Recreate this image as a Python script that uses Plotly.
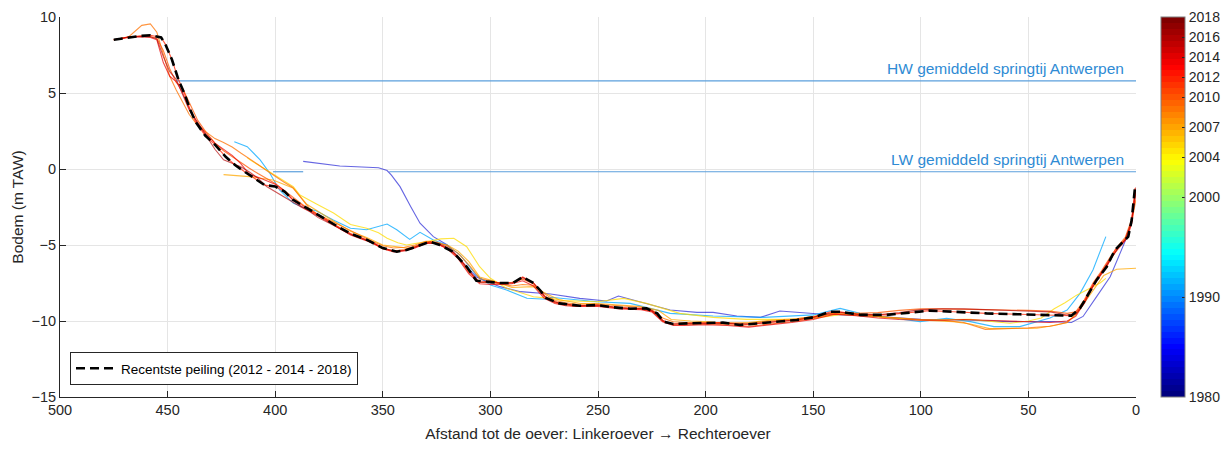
import plotly.graph_objects as go

# ---------------------------------------------------------------- data
# Cross-section profiles: distance from the bank (m) and bed level (m TAW)

x_1983 = [387, 370, 352, 348, 346, 342, 337, 332.7, 326.5, 320, 314, 306.5, 300, 295.5, 286, 272,
          258.5, 246, 240.5, 230.5, 216.5, 204, 196.5, 185.5, 174.5, 165.5, 157.5, 147, 136, 120,
          100, 79, 58.5, 38.5, 30, 24.6, 18.3, 12, 4.3]
y_1983 = [0.5, 0.2, 0.08, -0.1, -0.4, -1.16, -2.48, -3.57, -4.45, -5.0, -6.0, -7.1, -7.5, -7.74, -8.07, -8.22,
          -8.51, -8.68, -8.36, -8.73, -9.28, -9.43, -9.43, -9.67, -9.76, -9.34, -9.43, -9.54, -9.6, -9.7,
          -9.89, -9.93, -10.04, -10.04, -10.1, -9.7, -8.4, -7.09, -4.5]

x_1991 = [419, 413, 407, 402.5, 398, 391.5, 385.5, 381, 373, 365, 357.5, 348, 343.5, 337.5, 332.7, 326.5,
          320.3, 314, 306.5, 300, 292.5, 283, 274, 272, 250.5, 235, 216.5, 196.5, 173, 150, 137.5, 128.3,
          100.4, 88, 77, 66, 54, 40, 32, 26, 20, 14]
y_1991 = [1.8, 1.47, 0.6, -0.28, -1.38, -2.26, -2.6, -2.75, -3.36, -3.9, -4.0, -3.62, -4.0, -4.63, -4.17, -4.67,
          -5.0, -5.66, -7.0, -7.63, -7.96, -8.5, -8.57, -8.44, -8.73, -8.84, -9.5, -9.67, -9.76, -9.6, -9.17, -9.5,
          -10.04, -9.82, -10.04, -10.37, -10.37, -9.8, -9.28, -8.18, -6.64, -4.45]

x_2005 = [413, 411.7, 404, 398, 391.6, 388.5, 385, 380.8, 372.9, 365, 357.5, 352, 348, 343, 339, 334,
          329.6, 323, 317, 311, 305, 300, 292.5, 280, 272, 266, 250.5, 238, 227.5, 212, 196.5, 181,
          158, 147, 131.5, 116, 100, 77, 58.6, 50, 44, 38, 33, 27.6, 22, 16.7, 14]
y_2005 = [0.75, 0.6, -0.07, -0.6, -1.16, -1.71, -2.0, -2.3, -2.9, -3.65, -3.9, -4.2, -4.56, -4.85, -5.0, -4.9,
          -4.78, -4.6, -4.56, -5.11, -6.43, -7.19, -7.85, -8.4, -8.51, -8.66, -8.73, -8.51, -8.84, -9.5, -9.76, -9.89,
          -9.89, -9.76, -9.47, -9.76, -9.93, -9.89, -10.15, -10.0, -9.8, -9.2, -8.8, -8.3, -7.9, -7.5, -7.2]

x_2007 = [424, 412, 401, 391.5, 385.5, 379, 372, 365, 357.5, 350, 337.5, 328, 320, 315, 310, 305,
          300, 290, 280, 274, 268, 258, 250, 240, 230, 222, 216, 207, 198, 190, 180, 170,
          158, 150, 140, 128, 115, 100, 85, 77, 68, 54, 46, 38, 32, 27, 21, 15, 9, 4, 0]
y_2007 = [-0.37, -0.5, -0.72, -1.27, -2.3, -2.9, -3.5, -4.1, -4.5, -5.0, -5.22, -4.8, -5.0, -5.4, -6.1, -7.1,
          -7.3, -7.8, -7.74, -8.2, -8.6, -8.85, -8.85, -8.95, -9.05, -9.3, -9.9, -10.0, -10.05, -10.2, -10.1, -9.95,
          -9.85, -9.7, -9.55, -9.65, -9.8, -9.93, -10.04, -10.2, -10.5, -10.48, -10.48, -10.3, -10.1, -9.4, -8.2,
          -7.0, -6.6, -6.55, -6.53]

# shared distance grid of the more recent surveys
x_recent = [475, 468, 462, 458, 455, 452, 449, 446, 443, 440, 436, 432, 428, 424, 420, 416, 412, 408, 404,
            400, 396, 392, 388, 384, 380, 375, 370, 365, 360, 355, 350, 345, 340, 335, 330, 325, 320, 315,
            310, 305, 300, 295, 290, 285, 280, 275, 270, 265, 260, 250, 240, 230, 225, 220, 215, 210, 200,
            190, 180, 170, 160, 150, 140, 130, 120, 110, 100, 90, 80, 70, 60, 50, 40, 32, 28, 24, 20, 16,
            12, 8, 5, 2, 0]

y_2009 = [8.5, 8.7, 9.45, 9.55, 9.0, 7.6, 6.1, 5.2, 4.4, 3.6, 2.85, 2.4, 2.0, 1.75, 1.45, 1.05, 0.7, 0.3, -0.1,
          -0.5, -0.85, -1.2, -1.9, -2.6, -3.0, -3.35, -3.7, -4.1, -4.45, -4.75, -5.05, -5.2, -5.15, -5.0, -4.75,
          -4.8, -5.05, -5.55, -6.3, -7.2, -7.35, -7.55, -7.7, -7.6, -7.65, -8.2, -8.65, -8.8, -8.9, -8.9, -9.0,
          -9.1, -9.25, -9.8, -10.05, -10.1, -10.1, -10.1, -10.15, -10.0, -9.9, -9.7, -9.5, -9.6, -9.7, -9.8,
          -9.9, -9.95, -10.1, -10.55, -10.5, -10.45, -10.35, -10.1, -9.6, -8.7, -7.7, -6.8, -6.0, -5.1, -4.6,
          -3.5, -2.0]

y_2010 = [8.5, 8.7, 8.75, 8.72, 8.6, 7.8, 6.6, 5.7, 5.3, 4.4, 3.2, 2.4, 1.7, 1.2, 0.8, 0.4, 0.05, -0.3, -0.6,
          -0.95, -1.4, -1.85, -2.3, -2.7, -3.05, -3.4, -3.9, -4.3, -4.55, -4.85, -5.25, -5.4, -5.3, -5.1, -4.85,
          -4.9, -5.2, -5.8, -6.8, -7.45, -7.5, -7.55, -7.45, -7.25, -7.55, -8.4, -8.8, -8.95, -9.02, -9.0, -9.15,
          -9.2, -9.35, -10.0, -10.25, -10.25, -10.2, -10.25, -10.35, -10.2, -10.05, -9.85, -9.45, -9.5, -9.45,
          -9.3, -9.2, -9.2, -9.22, -9.25, -9.25, -9.3, -9.35, -9.5, -9.4, -8.6, -7.5, -6.7, -5.8, -5.0, -4.5,
          -3.3, -1.3]

y_2014 = [8.5, 8.68, 8.7, 8.65, 8.5, 7.0, 6.1, 5.75, 5.0, 4.0, 3.0, 2.3, 1.7, 1.3, 0.9, 0.35, -0.35, -0.55,
          -0.75, -1.0, -1.4, -2.0, -2.45, -2.8, -3.1, -3.5, -3.95, -4.35, -4.6, -4.85, -5.25, -5.45, -5.4, -5.2,
          -4.9, -4.9, -5.25, -5.9, -6.9, -7.55, -7.6, -7.6, -7.55, -7.35, -7.7, -8.5, -8.85, -9.0, -9.05, -9.05,
          -9.2, -9.25, -9.4, -10.05, -10.3, -10.3, -10.25, -10.3, -10.4, -10.25, -10.1, -9.9, -9.55, -9.65, -9.8,
          -9.9, -9.95, -9.95, -9.9, -9.95, -10.0, -10.05, -10.1, -10.0, -9.7, -8.8, -7.6, -6.8, -5.9, -5.2, -4.7,
          -3.6, -1.5]

y_2016 = [8.5, 8.68, 8.72, 8.7, 8.55, 7.4, 6.4, 5.9, 4.9, 3.9, 3.05, 2.2, 1.3, 0.6, 0.35, 0.15, -0.2, -0.6,
          -1.15, -1.5, -1.85, -2.2, -2.5, -2.8, -3.2, -3.55, -3.95, -4.3, -4.55, -4.8, -5.2, -5.4, -5.35, -5.15,
          -4.85, -4.85, -5.15, -5.75, -6.7, -7.45, -7.45, -7.5, -7.5, -7.15, -7.5, -8.35, -8.75, -8.9, -9.0, -8.95,
          -9.12, -9.18, -9.3, -9.95, -10.2, -10.17, -10.15, -10.15, -10.2, -10.07, -9.95, -9.76, -9.39, -9.55,
          -9.6, -9.45, -9.25, -9.2, -9.2, -9.25, -9.3, -9.35, -9.4, -9.6, -9.55, -8.85, -7.75, -6.9, -6.0, -5.1,
          -4.65, -3.4, -1.2]

# most recent survey (composite 2012 - 2014 - 2018)
x_last = [475, 470, 463, 458, 453, 451, 448, 445, 442, 439.5, 437, 432.5, 428, 423, 418.5, 414, 409, 405,
          400, 395.5, 392, 388.5, 384, 379, 372, 365, 357.5, 350, 343.5, 339, 334, 328, 323.5, 317.5, 311,
          306.5, 302, 295.5, 289.5, 285, 280, 277, 274, 268, 258.5, 250.5, 243, 235, 227.5, 222.5, 219.5,
          215, 207, 198, 192, 184, 176, 168.5, 157.5, 150, 142, 137.5, 128, 116, 108, 96, 85, 69.5, 54,
          38.5, 30, 26, 23, 18.3, 13.6, 9.8, 3.6, 2.0, 0.5]
y_last = [8.5, 8.6, 8.75, 8.8, 8.65, 8.2, 7.2, 5.9, 4.9, 3.9, 3.1, 2.2, 1.6, 0.8, 0.25, -0.2, -0.7, -1.05,
          -1.15, -1.5, -2.0, -2.3, -2.7, -3.15, -3.7, -4.25, -4.65, -5.2, -5.44, -5.33, -5.1, -4.78, -5.0,
          -5.44, -6.43, -7.35, -7.4, -7.5, -7.5, -7.1, -7.5, -7.96, -8.5, -8.84, -9.0, -8.95, -9.1, -9.19,
          -9.17, -9.5, -10.04, -10.2, -10.15, -10.15, -10.11, -10.26, -10.15, -10.04, -9.93, -9.76, -9.39,
          -9.39, -9.6, -9.6, -9.5, -9.32, -9.39, -9.5, -9.56, -9.64, -9.65, -9.16, -8.4, -7.3, -6.43, -5.33,
          -4.45, -3.36, -1.27]

# mean spring tide levels at Antwerp (m TAW) and the stretches where they are drawn
hw_level = 5.8
lw_level = -0.18
hw_x = [446, 0]
lw_x = [401, 387, None, 347, 0]

year_ticks = [1980, 1990, 2000, 2004, 2007, 2010, 2012, 2014, 2016, 2018]
year_min, year_max = 1980, 2018

# ---------------------------------------------------------------- colours
def jet(t):
    t = min(max(t, 0.0), 1.0)
    r = min(max(1.5 - abs(4 * t - 3), 0), 1)
    g = min(max(1.5 - abs(4 * t - 2), 0), 1)
    b = min(max(1.5 - abs(4 * t - 1), 0), 1)
    return f"rgb({round(r * 255)},{round(g * 255)},{round(b * 255)})"


def year_color(year):
    return jet((year - year_min) / (year_max - year_min))


n_bands = 64
jet_scale = []
for i in range(n_bands):
    c = jet(i / (n_bands - 1))
    jet_scale.append([i / n_bands, c])
    jet_scale.append([(i + 1) / n_bands, c])

level_color = "#5b9fdc"
level_text = "#2f8bd4"
ink = "#262626"
font_family = "Arial, 'Liberation Sans', Helvetica, sans-serif"

# ---------------------------------------------------------------- figure
fig = go.Figure()

fig.add_trace(go.Scatter(x=hw_x, y=[hw_level] * len(hw_x), mode="lines",
                         line=dict(color=level_color, width=1.2),
                         showlegend=False, hoverinfo="skip"))
fig.add_trace(go.Scatter(x=lw_x, y=[lw_level if v is not None else None for v in lw_x],
                         mode="lines", line=dict(color=level_color, width=1.2),
                         connectgaps=False, showlegend=False, hoverinfo="skip"))

surveys = [
    (1983, x_1983, y_1983, 0.6),
    (1991, x_1991, y_1991, 0.75),
    (2005, x_2005, y_2005, 0.75),
    (2007, x_2007, y_2007, 0.75),
    (2009, x_recent, y_2009, 0.75),
    (2010, x_recent, y_2010, 0.75),
    (2012, x_last, y_last, 0.75),
    (2014, x_recent, y_2014, 0.7),
    (2016, x_recent, y_2016, 0.65),
]
for year, xs, ys, alpha in surveys:
    fig.add_trace(go.Scatter(x=xs, y=ys, mode="lines", name=str(year),
                             line=dict(color=year_color(year), width=1.1),
                             opacity=alpha, showlegend=False))

fig.add_trace(go.Scatter(x=x_last, y=y_last, mode="lines",
                         name="Recentste peiling (2012 - 2014 - 2018)",
                         line=dict(color="black", width=2.6, dash="9px,5px")))

# colour bar for the survey year
fig.add_trace(go.Scatter(
    x=[x_last[0], x_last[0]], y=[y_last[0], y_last[0]], mode="markers",
    marker=dict(size=1, opacity=0, color=[year_min, year_max], cmin=year_min, cmax=year_max,
                colorscale=jet_scale, showscale=True,
                colorbar=dict(x=1.0232, xanchor="left", y=0.5, yanchor="middle",
                              len=380, lenmode="pixels", thickness=24, thicknessmode="pixels",
                              outlinecolor="#7f7f7f", outlinewidth=1,
                              tickvals=year_ticks, ticktext=[str(v) for v in year_ticks],
                              ticks="inside", ticklen=3, tickcolor=ink,
                              tickfont=dict(size=14, color=ink, family=font_family),
                              xpad=0, ypad=0)),
    showlegend=False, hoverinfo="skip"))

fig.add_annotation(x=4.5, y=hw_level, text="HW gemiddeld springtij Antwerpen",
                   xanchor="right", yanchor="bottom", yshift=2, showarrow=False,
                   font=dict(size=15.5, color=level_text, family=font_family))
fig.add_annotation(x=4.5, y=lw_level, text="LW gemiddeld springtij Antwerpen",
                   xanchor="right", yanchor="bottom", yshift=2, showarrow=False,
                   font=dict(size=15.5, color=level_text, family=font_family))

fig.update_layout(
    width=1229, height=450,
    margin=dict(l=60, r=93, t=17, b=53, autoexpand=False),
    paper_bgcolor="white", plot_bgcolor="white",
    font=dict(family=font_family, color=ink, size=14),
    legend=dict(x=0.0093, y=0.0316, xanchor="left", yanchor="bottom",
                bgcolor="white", bordercolor=ink, borderwidth=1,
                font=dict(size=13.5, color="black", family=font_family),
                itemwidth=40, tracegroupgap=0),
)
fig.update_xaxes(range=[500, 0], tick0=0, dtick=50, showgrid=True, gridcolor="#e5e5e5", gridwidth=1,
                 showline=True, linecolor=ink, linewidth=1, ticks="inside", ticklen=6, tickcolor=ink,
                 zeroline=False, mirror=False,
                 tickfont=dict(size=14.5, color=ink),
                 title=dict(text="Afstand tot de oever: Linkeroever \u2192 Rechteroever",
                            font=dict(size=15.5, color=ink), standoff=10))
fig.update_yaxes(range=[-15, 10], tick0=0, dtick=5, showgrid=True, gridcolor="#e5e5e5", gridwidth=1,
                 showline=True, linecolor=ink, linewidth=1, ticks="inside", ticklen=6, tickcolor=ink,
                 zeroline=False, mirror=False,
                 tickfont=dict(size=14.5, color=ink),
                 title=dict(text="Bodem (m TAW)", font=dict(size=15.5, color=ink), standoff=4))

fig.write_html("out.html")
